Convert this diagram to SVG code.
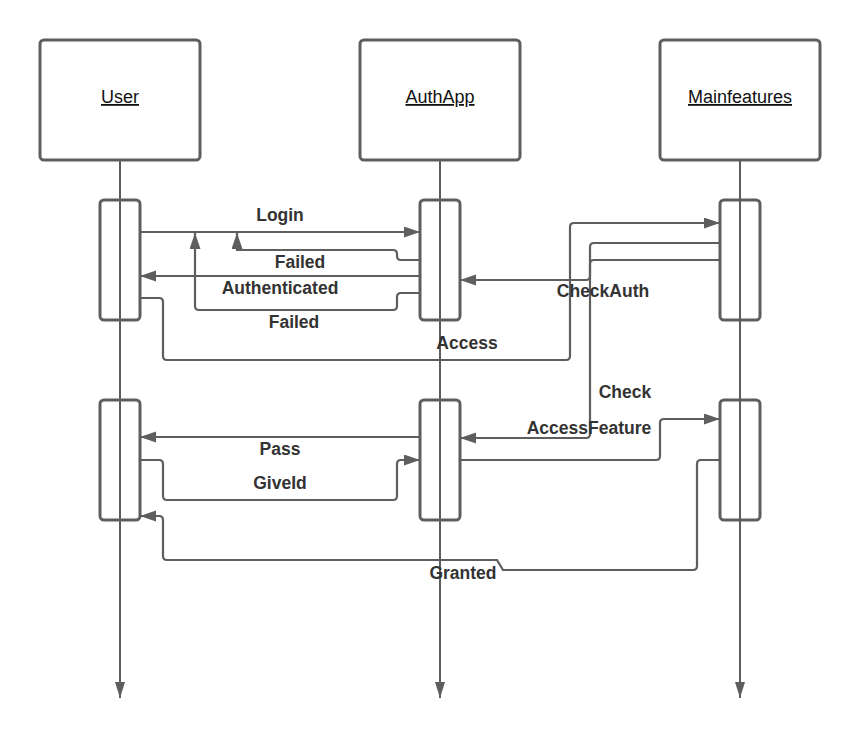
<svg xmlns="http://www.w3.org/2000/svg" width="860" height="737" viewBox="0 0 860 737">
<defs>
<style>
.hdr{fill:#fff;stroke:#5e5e5e;stroke-width:3}
.act{fill:#fff;stroke:#5e5e5e;stroke-width:3}
.life{fill:none;stroke:#5e5e5e;stroke-width:2}
.msg{fill:none;stroke:#5e5e5e;stroke-width:2.2;marker-end:url(#ah)}
.htxt{font-family:"Liberation Sans",Arial,sans-serif;font-size:18px;fill:#111;text-anchor:middle;text-decoration:underline}
.lbl{font-family:"Liberation Sans",Arial,sans-serif;font-size:17.5px;font-weight:bold;fill:#333;text-anchor:middle}
</style>
<marker id="ah" markerUnits="userSpaceOnUse" markerWidth="17" markerHeight="12" refX="16" refY="5.5" orient="auto">
<path d="M0,0 L16,5.5 L0,11 z" fill="#5e5e5e"/>
</marker>
<marker id="lh" markerUnits="userSpaceOnUse" markerWidth="17" markerHeight="11" refX="16" refY="5" orient="auto">
<path d="M0,0 L16,5 L0,10 z" fill="#5e5e5e"/>
</marker>
</defs>
<rect width="860" height="737" fill="#fff"/>
<g id="user">
<rect class="hdr" x="40" y="40" width="160" height="120" rx="4"/>
<text class="htxt" x="120" y="103">User</text>
<rect class="act" x="100" y="200" width="40" height="120" rx="4"/>
<rect class="act" x="100" y="400" width="40" height="120" rx="4"/>
<path class="life" d="M120,160 V698" style="marker-end:url(#lh)"/>
</g>
<g id="authapp">
<rect class="hdr" x="360" y="40" width="160" height="120" rx="4"/>
<text class="htxt" x="440" y="103">AuthApp</text>
<rect class="act" x="420" y="200" width="40" height="120" rx="4"/>
<rect class="act" x="420" y="400" width="40" height="120" rx="4"/>
<path class="life" d="M440,160 V698" style="marker-end:url(#lh)"/>
</g>
<g id="mainfeatures">
<rect class="hdr" x="660" y="40" width="160" height="120" rx="4"/>
<text class="htxt" x="740" y="103">Mainfeatures</text>
<rect class="act" x="720" y="200" width="40" height="120" rx="4"/>
<rect class="act" x="720" y="400" width="40" height="120" rx="4"/>
<path class="life" d="M740,160 V698" style="marker-end:url(#lh)"/>
</g>
<g id="connectors">
<path class="msg" d="M140,232 H420"/>
<path class="msg" d="M420,260 H401 Q397,260 397,256 V254 Q397,250 393,250 H237 V233"/>
<path class="msg" d="M420,276 H140"/>
<path class="msg" d="M420,293 H401 Q397,293 397,297 V306 Q397,310 393,310 H199 Q195,310 195,306 V233"/>
<path class="msg" d="M140,298 H159 Q163,298 163,302 V356 Q163,360 167,360 H566 Q570,360 570,356 V227 Q570,223 574,223 H720"/>
<path class="msg" d="M720,260 H594 Q590,260 590,264 V276 Q590,280 586,280 H460"/>
<path class="msg" d="M720,243 H594 Q590,243 590,247 V434 Q590,438 586,438 H460"/>
<path class="msg" d="M420,437 H140"/>
<path class="msg" d="M140,460 H159 Q163,460 163,464 V496 Q163,500 167,500 H393 Q397,500 397,496 V464 Q397,460 401,460 H420"/>
<path class="msg" d="M460,460 H656 Q660,460 660,456 V423 Q660,419 664,419 H720"/>
<path class="msg" d="M720,460 H701 Q697,460 697,464 V566 Q697,570 693,570 H503 L497,560 H167 Q163,560 163,556 V520 Q163,516 159,516 H140"/>
<text class="lbl" x="280" y="221">Login</text>
<text class="lbl" x="300" y="268">Failed</text>
<text class="lbl" x="280" y="294">Authenticated</text>
<text class="lbl" x="294" y="328">Failed</text>
<text class="lbl" x="467" y="349">Access</text>
<text class="lbl" x="603" y="297">CheckAuth</text>
<text class="lbl" x="625" y="398">Check</text>
<text class="lbl" x="589" y="434">AccessFeature</text>
<text class="lbl" x="280" y="455">Pass</text>
<text class="lbl" x="280" y="489">GiveId</text>
<text class="lbl" x="463" y="579">Granted</text>
</g>
</svg>
